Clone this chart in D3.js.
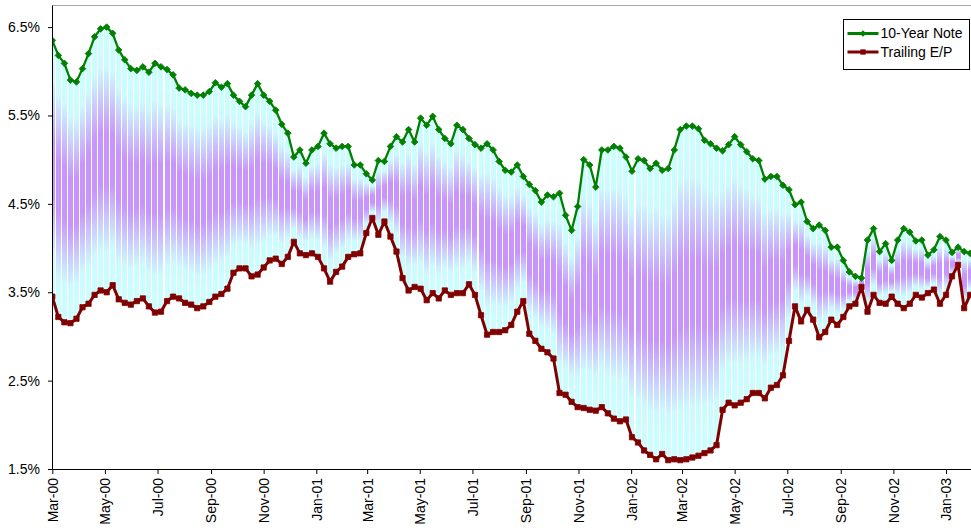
<!DOCTYPE html>
<html>
<head>
<meta charset="utf-8">
<script src="https://cdn.jsdelivr.net/npm/d3@7"></script>
<style>
  html, body { margin: 0; padding: 0; background: #fff; }
  svg { display: block; font-family: "Liberation Sans", Arial, sans-serif; }
</style>
</head>
<body>
<svg id="chart" width="971" height="531"></svg>
<script>
// Axis labels
const monthLabels = ["Mar-00","May-00","Jul-00","Sep-00","Nov-00","Jan-01","Mar-01","May-01",
  "Jul-01","Sep-01","Nov-01","Jan-02","Mar-02","May-02","Jul-02","Sep-02","Nov-02","Jan-03"];
const yTickValues = [1.5, 2.5, 3.5, 4.5, 5.5, 6.5];

// Weekly observations (every Wednesday) starting from this date
const firstWeek = "2000-03-01";

// 10-year Treasury note yield, %
const noteYield = [
  6.35, 6.18, 6.09, 5.90, 5.88, 6.03, 6.20, 6.39, 6.48, 6.50,
  6.43, 6.24, 6.13, 6.03, 6.01, 6.05, 5.99, 6.09, 6.05, 6.02,
  5.96, 5.81, 5.79, 5.75, 5.73, 5.73, 5.77, 5.87, 5.82, 5.86,
  5.73, 5.66, 5.60, 5.73, 5.86, 5.73, 5.66, 5.56, 5.40, 5.30,
  5.03, 5.11, 4.96, 5.11, 5.15, 5.30, 5.18, 5.13, 5.15, 5.15,
  4.94, 4.94, 4.84, 4.77, 4.99, 4.98, 5.15, 5.26, 5.20, 5.34,
  5.20, 5.47, 5.39, 5.49, 5.34, 5.24, 5.18, 5.39, 5.34, 5.24,
  5.17, 5.13, 5.18, 5.11, 4.98, 4.88, 4.86, 4.94, 4.81, 4.72,
  4.65, 4.52, 4.60, 4.58, 4.62, 4.37, 4.20, 4.47, 5.00, 4.94,
  4.69, 5.11, 5.11, 5.15, 5.13, 5.03, 4.87, 5.01, 4.99, 4.90,
  4.96, 4.88, 4.90, 5.11, 5.34, 5.38, 5.38, 5.35, 5.22, 5.18,
  5.13, 5.10, 5.17, 5.26, 5.17, 5.09, 5.01, 4.99, 4.78, 4.81,
  4.81, 4.71, 4.66, 4.49, 4.52, 4.30, 4.22, 4.26, 4.20, 4.01,
  4.01, 3.86, 3.73, 3.68, 3.66, 4.09, 4.22, 3.96, 4.05, 3.86,
  4.09, 4.22, 4.18, 4.08, 4.09, 3.92, 3.98, 4.13, 4.09, 3.95,
  4.01, 3.96, 3.94
];

// Trailing earnings/price ratio, %
const trailingEP = [
  3.45, 3.22, 3.16, 3.15, 3.20, 3.33, 3.37, 3.47, 3.52, 3.50,
  3.58, 3.42, 3.38, 3.36, 3.40, 3.43, 3.34, 3.27, 3.28, 3.40,
  3.45, 3.43, 3.38, 3.36, 3.32, 3.34, 3.39, 3.45, 3.48, 3.54,
  3.72, 3.77, 3.77, 3.68, 3.70, 3.78, 3.86, 3.88, 3.82, 3.90,
  4.07, 3.94, 3.92, 3.94, 3.90, 3.77, 3.62, 3.73, 3.79, 3.90,
  3.93, 3.94, 4.17, 4.34, 4.15, 4.30, 4.13, 3.96, 3.66, 3.52,
  3.56, 3.54, 3.41, 3.49, 3.43, 3.52, 3.47, 3.49, 3.49, 3.59,
  3.47, 3.24, 3.02, 3.05, 3.05, 3.07, 3.13, 3.28, 3.40, 3.03,
  2.95, 2.86, 2.82, 2.75, 2.36, 2.34, 2.26, 2.20, 2.19, 2.17,
  2.16, 2.20, 2.13, 2.07, 2.04, 2.06, 1.86, 1.80, 1.71, 1.66,
  1.61, 1.67, 1.60, 1.61, 1.60, 1.61, 1.63, 1.65, 1.68, 1.71,
  1.77, 2.17, 2.25, 2.22, 2.25, 2.29, 2.36, 2.36, 2.30, 2.42,
  2.45, 2.56, 2.95, 3.34, 3.17, 3.30, 3.19, 2.99, 3.05, 3.19,
  3.13, 3.22, 3.34, 3.37, 3.56, 3.28, 3.47, 3.38, 3.37, 3.45,
  3.37, 3.32, 3.37, 3.47, 3.44, 3.49, 3.53, 3.37, 3.47, 3.68,
  3.81, 3.32, 3.47
];

const seriesNames = ["10-Year Note", "Trailing E/P"];
const seriesColors = ["#008000", "#800000"];

const plot = { left: 52, right: 971, top: 5, bottom: 469 };

const parseDay = d3.timeParse("%Y-%m-%d");
const parseMonth = d3.timeParse("%b-%y");
const start = parseDay(firstWeek);
const weeks = noteYield.map((_, i) => d3.timeWeek.offset(start, i));
const rows = weeks.map((d, i) => ({ date: d, note: noteYield[i], ep: trailingEP[i] }));

// Time scale: Mar-00 and Jan-03 gridlines, extended linearly to the right edge
const x0 = d3.scaleTime()
  .domain([parseMonth("Mar-00"), parseMonth("Jan-03")])
  .range([plot.left + 0.3, 946]);
const x = d3.scaleTime()
  .domain([x0.domain()[0], x0.invert(plot.right)])
  .range([plot.left + 0.3, plot.right]);

const y = d3.scaleLinear().domain([1.5, 6.75]).range([plot.bottom, plot.top]);

const svg = d3.select("#chart");

const defs = svg.append("defs");
const grad = defs.append("linearGradient")
  .attr("id", "barFill").attr("x1", 0).attr("y1", 0).attr("x2", 0).attr("y2", 1);
[[0, "#ccffff"], [0.15, "#ccfafe"], [0.4, "#c896fb"], [0.6, "#c896fb"], [0.85, "#ccfafe"], [1, "#ccffff"]]
  .forEach(([o, c]) => grad.append("stop").attr("offset", o).attr("stop-color", c));

defs.append("clipPath").attr("id", "plotClip")
  .append("rect").attr("x", plot.left).attr("y", 0)
  .attr("width", plot.right - plot.left).attr("height", plot.bottom);

// Plot frame top edge
svg.append("line")
  .attr("x1", plot.left).attr("x2", plot.right)
  .attr("y1", plot.top + 0.5).attr("y2", plot.top + 0.5)
  .attr("stroke", "#a6a6a6").attr("stroke-width", 1);

const g = svg.append("g").attr("clip-path", "url(#plotClip)");

// Spread bars between the two yields, separated by thin white gaps
const step = x(weeks[1]) - x(weeks[0]);
const bw = Math.round(step) - 1;
g.append("g").attr("shape-rendering", "crispEdges")
  .selectAll("rect").data(rows).join("rect")
  .attr("x", d => Math.round(x(d.date) - bw / 2))
  .attr("y", d => y(Math.max(d.note, d.ep)))
  .attr("width", bw)
  .attr("height", d => Math.abs(y(d.ep) - y(d.note)))
  .attr("fill", "url(#barFill)");

// Series lines with markers
function drawSeries(key, color, width, marker, rotate) {
  const line = d3.line().x(d => x(d.date)).y(d => y(d[key]));
  g.append("path").datum(rows)
    .attr("fill", "none").attr("stroke", color)
    .attr("stroke-width", width).attr("stroke-linejoin", "round")
    .attr("d", line);
  g.append("g").selectAll("path").data(rows).join("path")
    .attr("d", marker)
    .attr("transform", d => `translate(${x(d.date)},${y(d[key])})` + (rotate ? " rotate(45)" : ""))
    .attr("fill", color).attr("stroke", color).attr("stroke-width", 0.8);
}
const diamond = d3.symbol(d3.symbolSquare, 22)();
const square = d3.symbol(d3.symbolSquare, 28)();
drawSeries("note", seriesColors[0], 2.3, diamond, true);
drawSeries("ep", seriesColors[1], 3, square, false);

// Axes
const yAxis = d3.axisLeft(y).tickValues(yTickValues)
  .tickFormat(d => d.toFixed(1) + "%").tickSize(4).tickSizeOuter(0).tickPadding(8);
const gy = svg.append("g").attr("transform", `translate(${plot.left},0)`).call(yAxis);
gy.attr("font-family", null);
gy.selectAll("text").attr("font-size", 14).attr("fill", "#000");
gy.selectAll("line, path").attr("stroke", "#000");

const xAxis = d3.axisBottom(x).tickValues(monthLabels.map(parseMonth))
  .tickFormat(d3.timeFormat("%b-%y")).tickSize(5).tickSizeOuter(0);
const gx = svg.append("g").attr("transform", `translate(0,${plot.bottom})`).call(xAxis);
gx.attr("font-family", null);
gx.selectAll("line, path").attr("stroke", "#000");
gx.selectAll("text")
  .attr("font-size", 14).attr("fill", "#000")
  .attr("transform", "rotate(-90)")
  .attr("text-anchor", "end")
  .attr("x", -9).attr("y", 0).attr("dy", "0.35em");

// Legend
const lg = svg.append("g").attr("transform", "translate(843.5,19.5)");
lg.append("rect").attr("width", 126).attr("height", 50)
  .attr("fill", "#fff").attr("stroke", "#000").attr("stroke-width", 1);
seriesNames.forEach((name, i) => {
  const cy = 14 + i * 18.5;
  lg.append("line").attr("x1", 4).attr("x2", 35).attr("y1", cy).attr("y2", cy)
    .attr("stroke", seriesColors[i]).attr("stroke-width", 3);
  lg.append("path").attr("d", i === 0 ? diamond : square)
    .attr("transform", `translate(19.5,${cy})` + (i === 0 ? " rotate(45)" : ""))
    .attr("fill", seriesColors[i]);
  lg.append("text").attr("x", 37).attr("y", cy).attr("dy", "0.35em")
    .attr("font-size", 14).attr("fill", "#000").text(name);
});
</script>
</body>
</html>
